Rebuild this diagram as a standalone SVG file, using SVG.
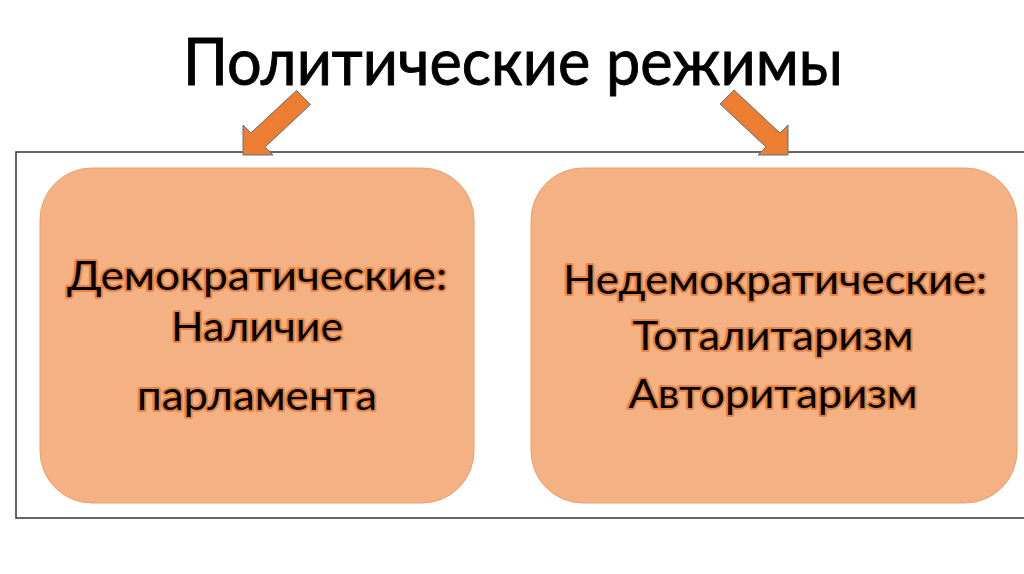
<svg xmlns="http://www.w3.org/2000/svg" width="1024" height="574" viewBox="0 0 1024 574">
<style>
.title{font-family:Lato,"Open Sans","Liberation Sans",sans-serif;font-size:65px;fill:#000;stroke:#000;stroke-width:0.9;}
.lbl{font-family:Lato,"Open Sans","Liberation Sans",sans-serif;font-size:40px;fill:#000;stroke:#E8843F;stroke-width:4;stroke-linejoin:round;paint-order:stroke;text-anchor:middle;}
.box{fill:#F4B183;stroke:#EC9F6A;stroke-width:1;}
.arrow{fill:#ED7D31;stroke:#5B7190;stroke-width:1;}
</style>
<rect width="1024" height="574" fill="#fff"/>
<text class="title" x="183" y="85" textLength="660" lengthAdjust="spacingAndGlyphs">Политические режимы</text>
<g id="frame"><rect x="16" y="152" width="1020" height="366" fill="none" stroke="#333" stroke-width="1.5"/></g>
<g id="connectors">
<polygon class="arrow" points="296.5,90.5 310.5,104.5 265.1,147.1 273,155 243,155 243,125 250.9,132.9"/>
<polygon class="arrow" points="734,90 720,104 766,147 758,155 788,155 788,125 780,133"/>
</g>
<g id="democratic">
<rect class="box" x="40" y="168" width="434" height="335" rx="52" ry="52"/>
<text class="lbl" x="257" y="290" textLength="380" lengthAdjust="spacingAndGlyphs">Демократические:</text>
<text class="lbl" x="257" y="341" textLength="172" lengthAdjust="spacingAndGlyphs">Наличие</text>
<text class="lbl" x="257" y="410" textLength="240" lengthAdjust="spacingAndGlyphs">парламента</text>
</g>
<g id="nondemocratic">
<rect class="box" x="531" y="168" width="486" height="335" rx="52" ry="52"/>
<text class="lbl" x="775" y="294" textLength="424" lengthAdjust="spacingAndGlyphs">Недемократические:</text>
<text class="lbl" x="773" y="350" textLength="281" lengthAdjust="spacingAndGlyphs">Тоталитаризм</text>
<text class="lbl" x="773" y="408" textLength="289" lengthAdjust="spacingAndGlyphs">Авторитаризм</text>
</g>
</svg>
